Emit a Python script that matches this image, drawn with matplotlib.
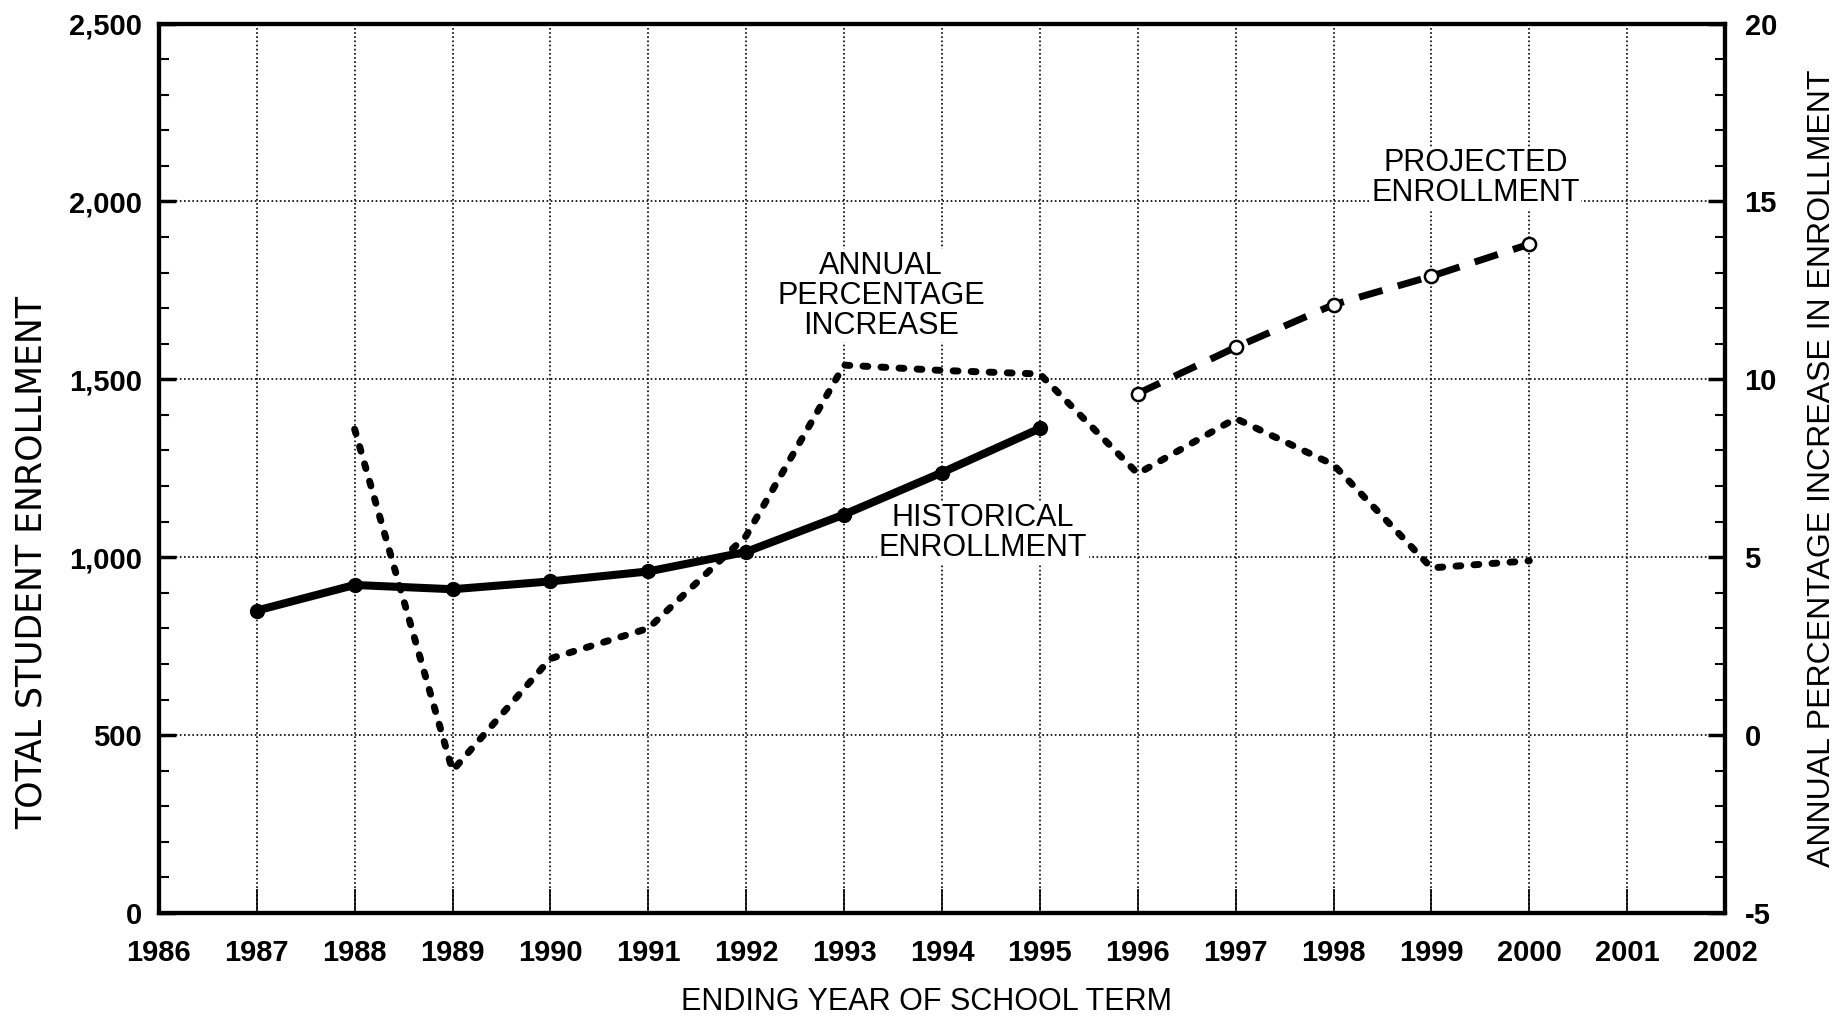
import numpy as np
import matplotlib.pyplot as plt
from matplotlib.ticker import MultipleLocator, FuncFormatter

# data
hist_years = [1987, 1988, 1989, 1990, 1991, 1992, 1993, 1994, 1995]
hist_enroll = [850, 922, 910, 932, 960, 1015, 1120, 1238, 1362]

proj_years = [1996, 1997, 1998, 1999, 2000]
proj_enroll = [1460, 1590, 1710, 1790, 1880]

pct_years = [1988, 1989, 1990, 1991, 1992, 1993, 1994, 1995, 1996, 1997, 1998, 1999, 2000]
pct_increase = [8.6, -1.0, 2.15, 3.0, 5.6, 10.4, 10.25, 10.15, 7.35, 8.9, 7.6, 4.7, 4.9]

year_ticks = list(range(1986, 2003))

narrow = ['Liberation Sans Narrow', 'Liberation Sans', 'DejaVu Sans']
plt.rcParams['font.family'] = narrow
plt.rcParams['axes.unicode_minus'] = False

fig = plt.figure(figsize=(18.47, 10.17), dpi=100)
ax = fig.add_axes([0.086, 0.1023, 0.848, 0.8745])
ax2 = ax.twinx()

ax.set_xlim(1986, 2002)
ax.set_ylim(0, 2500)
ax2.set_ylim(-5, 20)

ax.set_xticks(year_ticks)
ax.set_xticklabels([str(y) for y in year_ticks])
ax.yaxis.set_major_locator(MultipleLocator(500))
ax.yaxis.set_minor_locator(MultipleLocator(100))
ax.yaxis.set_major_formatter(FuncFormatter(lambda v, p: f'{int(v):,}'))
ax2.yaxis.set_major_locator(MultipleLocator(5))
ax2.yaxis.set_minor_locator(MultipleLocator(1))

ax.grid(True, which='major', linestyle=(0, (1, 1.5)), color='black', linewidth=1.2)

for a in (ax, ax2):
    for s in a.spines.values():
        s.set_linewidth(3)

ax.tick_params(axis='x', direction='in', length=17, width=1.2, pad=19, labelsize=21)
ax.tick_params(axis='y', which='major', direction='in', length=12, width=2.5, pad=12, labelsize=21)
ax.tick_params(axis='y', which='minor', direction='in', length=7, width=1.5)
ax2.tick_params(axis='y', which='major', direction='in', length=12, width=2.5, pad=14, labelsize=21)
ax2.tick_params(axis='y', which='minor', direction='in', length=7, width=1.5)
for lab in ax.get_xticklabels() + ax.get_yticklabels() + ax2.get_yticklabels():
    lab.set_fontweight('bold')

ax.set_xlabel('ENDING YEAR OF SCHOOL TERM', fontsize=22, va='center')
ax.xaxis.set_label_coords(0.49, -0.1)
ax.set_ylabel('TOTAL STUDENT ENROLLMENT', fontsize=25, va='center', family='DejaVu Sans')
ax.yaxis.set_label_coords(-0.081, 0.394)
ax2.set_ylabel('ANNUAL PERCENTAGE INCREASE IN ENROLLMENT', fontsize=23, va='center',
               family='Liberation Sans')
ax2.yaxis.set_label_coords(1.062, 0.5)

# percentage line on the right axis
ax2.plot(pct_years, pct_increase, color='black', linewidth=5,
         linestyle=(0, (0.7, 1.9)), dash_capstyle='round', zorder=3)

# enrollment lines
ax2.set_zorder(ax.get_zorder() + 1)
ax2.patch.set_visible(False)
ax.plot(hist_years, hist_enroll, color='black', linewidth=5.8, marker='o',
        markersize=10, zorder=4)
ax.plot(proj_years, proj_enroll, color='black', linewidth=5, linestyle=(0, (3.5, 2.3)),
        marker='o', markersize=9.5, markerfacecolor='white', markeredgewidth=1.8, zorder=4)

box = dict(facecolor='white', edgecolor='none', pad=1)
ax.text(1993.38, 1735, 'ANNUAL\nPERCENTAGE\nINCREASE', ha='center', va='center',
        fontsize=22, linespacing=1.0, bbox=box)
ax.text(1994.42, 1068, 'HISTORICAL\nENROLLMENT', ha='center', va='center',
        fontsize=22, linespacing=1.0, bbox=box)
ax.text(1999.45, 2065, 'PROJECTED\nENROLLMENT', ha='center', va='center',
        fontsize=22, linespacing=1.0, bbox=box)

fig.savefig('out.png', dpi=100)
